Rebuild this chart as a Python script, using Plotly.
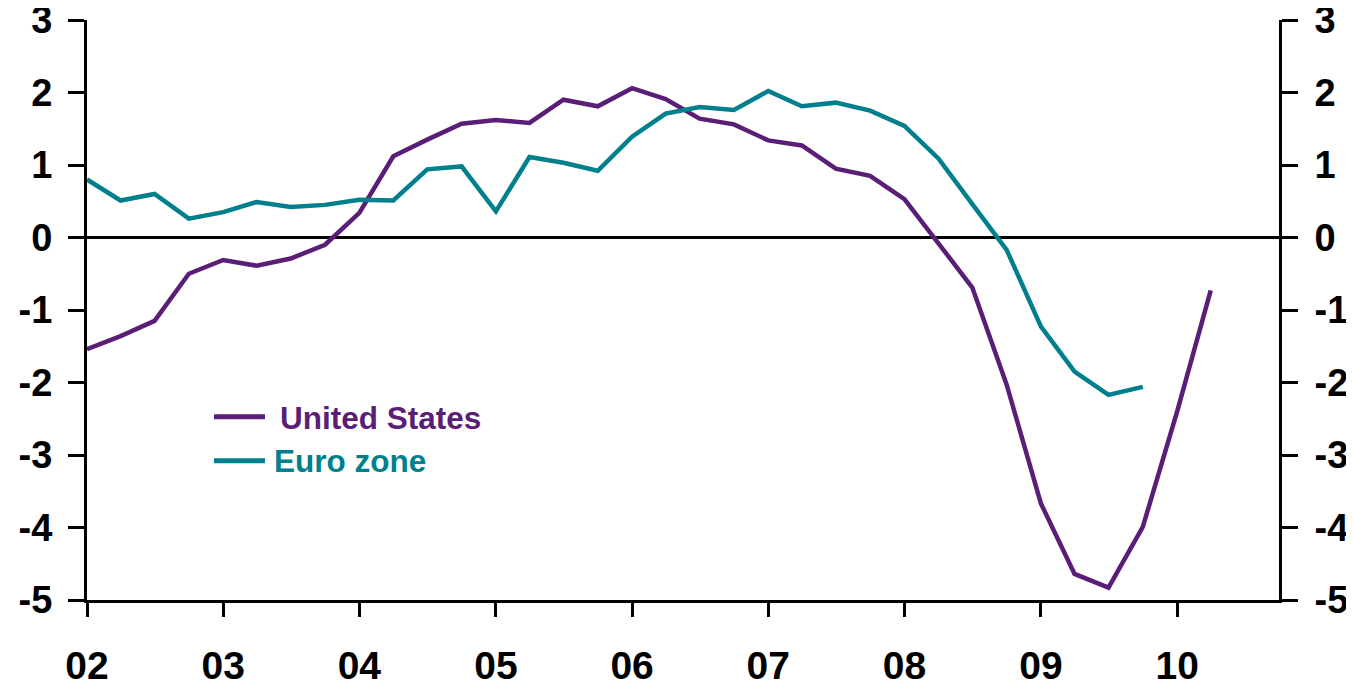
import plotly.graph_objects as go

# Quarter start dates
quarters = [
    "2002-01-01", "2002-04-01", "2002-07-01", "2002-10-01",
    "2003-01-01", "2003-04-01", "2003-07-01", "2003-10-01",
    "2004-01-01", "2004-04-01", "2004-07-01", "2004-10-01",
    "2005-01-01", "2005-04-01", "2005-07-01", "2005-10-01",
    "2006-01-01", "2006-04-01", "2006-07-01", "2006-10-01",
    "2007-01-01", "2007-04-01", "2007-07-01", "2007-10-01",
    "2008-01-01", "2008-04-01", "2008-07-01", "2008-10-01",
    "2009-01-01", "2009-04-01", "2009-07-01", "2009-10-01",
    "2010-01-01", "2010-04-01",
]

us_values = [-1.54, -1.36, -1.15, -0.50, -0.31, -0.39, -0.29, -0.10,
             0.34, 1.12, 1.35, 1.57, 1.62, 1.58, 1.90, 1.81,
             2.06, 1.91, 1.64, 1.56, 1.34, 1.27, 0.95, 0.85,
             0.53, -0.08, -0.69, -2.03, -3.67, -4.64, -4.83, -3.99,
             -2.40, -0.73]

euro_values = [0.80, 0.51, 0.60, 0.26, 0.35, 0.49, 0.42, 0.45,
               0.52, 0.51, 0.94, 0.98, 0.36, 1.11, 1.03, 0.92,
               1.39, 1.71, 1.80, 1.76, 2.02, 1.81, 1.86, 1.75,
               1.54, 1.09, 0.46, -0.17, -1.23, -1.85, -2.17, -2.06]

x_tick_vals = ["2002-01-01", "2003-01-01", "2004-01-01", "2005-01-01", "2006-01-01",
               "2007-01-01", "2008-01-01", "2009-01-01", "2010-01-01"]
x_tick_text = ["02", "03", "04", "05", "06", "07", "08", "09", "10"]
y_tick_vals = [-5, -4, -3, -2, -1, 0, 1, 2, 3]
y_tick_text = ["-5", "-4", "-3", "-2", "-1", "0", "1", "2", "3"]

US_COLOR = "#5B1E77"
EURO_COLOR = "#007F8C"
FONT = "Liberation Sans, Arial, sans-serif"

fig = go.Figure()
fig.add_trace(go.Scatter(x=quarters, y=us_values, mode="lines", name="United States",
                         line=dict(color=US_COLOR, width=4.5), showlegend=False))
fig.add_trace(go.Scatter(x=quarters[:len(euro_values)], y=euro_values, mode="lines", name="Euro zone",
                         line=dict(color=EURO_COLOR, width=4.5), showlegend=False))
# invisible trace to anchor the right axis
fig.add_trace(go.Scatter(x=quarters, y=us_values, mode="lines", yaxis="y2",
                         line=dict(color="rgba(0,0,0,0)", width=0), showlegend=False,
                         hoverinfo="skip"))

axis_font = dict(family=FONT, size=38, color="black", weight="bold")

fig.update_layout(
    width=1346, height=679,
    margin=dict(l=79, r=75, t=12, b=87),
    paper_bgcolor="white", plot_bgcolor="white",
    xaxis=dict(
        type="date",
        range=["2002-01-01", "2010-10-01"],
        tickmode="array", tickvals=x_tick_vals, ticktext=x_tick_text,
        ticks="outside", ticklen=14, tickwidth=3, tickcolor="black",
        showline=True, linewidth=3, linecolor="black",
        showgrid=False, zeroline=False, automargin=False,
        tickfont=dict(family=FONT, size=39, color="black", weight="bold"),
        ticklabelstandoff=15, ticklabeloverflow="allow",
    ),
    yaxis=dict(
        range=[-5, 3], tickmode="array", tickvals=y_tick_vals, ticktext=y_tick_text,
        ticks="outside", ticklen=16, tickwidth=3, tickcolor="black",
        showline=True, linewidth=3, linecolor="black",
        showgrid=False, zeroline=True, zerolinecolor="black", zerolinewidth=3,
        tickfont=axis_font, ticklabelstandoff=8, automargin=False,
        ticklabeloverflow="allow",
    ),
    yaxis2=dict(
        range=[-5, 3], tickmode="array", tickvals=y_tick_vals, ticktext=y_tick_text,
        overlaying="y", side="right",
        ticks="outside", ticklen=16, tickwidth=3, tickcolor="black",
        showline=True, linewidth=3, linecolor="black",
        showgrid=False, zeroline=False, automargin=False,
        tickfont=axis_font, ticklabelstandoff=9, ticklabeloverflow="allow",
    ),
    showlegend=False,
)

# legend drawn manually
fig.add_shape(type="line", xref="paper", yref="paper", x0=0.1065, x1=0.1493, y0=0.316, y1=0.316,
              line=dict(color=US_COLOR, width=5))
fig.add_shape(type="line", xref="paper", yref="paper", x0=0.1065, x1=0.1493, y0=0.2402, y1=0.2402,
              line=dict(color=EURO_COLOR, width=5))
fig.add_annotation(text="United States", xref="paper", yref="paper", x=0.1605, y=0.3130,
                   xanchor="left", yanchor="middle", showarrow=False,
                   font=dict(family=FONT, size=31.5, color=US_COLOR, weight="bold"))
fig.add_annotation(text="Euro zone", xref="paper", yref="paper", x=0.1550, y=0.2388,
                   xanchor="left", yanchor="middle", showarrow=False,
                   font=dict(family=FONT, size=31.5, color=EURO_COLOR, weight="bold"))

fig.write_html("out.html")
